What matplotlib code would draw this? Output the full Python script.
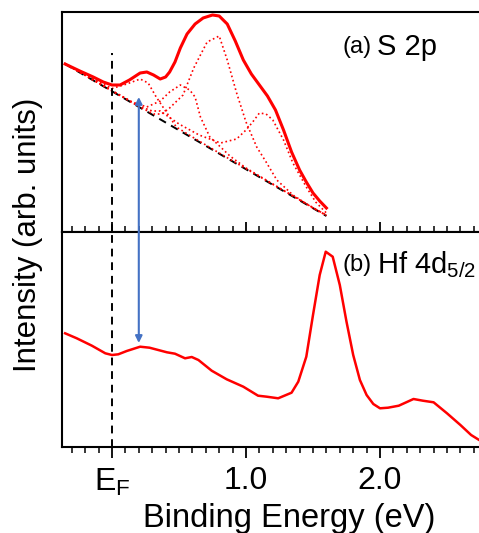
import matplotlib
matplotlib.use("Agg")
import matplotlib.pyplot as plt
from matplotlib.ticker import MultipleLocator, FixedLocator

plt.rcParams['font.family'] = ['Liberation Sans', 'DejaVu Sans']
plt.rcParams['mathtext.fontset'] = 'custom'
plt.rcParams['mathtext.rm'] = 'Liberation Sans'

# ---- (a) S 2p ----
s2p_x = [-0.35, -0.24, -0.14, -0.065, 0.0, 0.06, 0.13, 0.21, 0.26, 0.31, 0.36, 0.40, 0.43,
         0.47, 0.51, 0.56, 0.62, 0.68, 0.75, 0.80, 0.86, 0.92, 0.98, 1.04, 1.10, 1.16, 1.22,
         1.28, 1.34, 1.40, 1.45, 1.50, 1.55, 1.60]
s2p_y = [168, 161, 155, 150, 147, 147, 152, 159, 160, 157, 153, 155, 160,
         170, 184, 198, 208, 214, 217, 216, 208, 191, 172, 158, 147, 136, 122,
         102, 80, 62, 50, 39, 31, 24]

bg_x = [-0.35, 1.60]
bg_y = [168, 16]

comp1_x = [-0.35, -0.2, -0.1, 0.0, 0.11, 0.21, 0.27, 0.33, 0.41, 0.48, 0.6, 0.8, 1.0, 1.2, 1.4, 1.6]
comp1_y = [168.6, 157.8, 150.2, 143.5, 148, 153, 149, 135, 119, 105, 95, 79, 63.3, 47.7, 32, 16.5]

comp2_x = [-0.35, 0.0, 0.15, 0.26, 0.36, 0.43, 0.51, 0.58, 0.62, 0.66, 0.73, 0.81, 0.88, 1.0, 1.2, 1.6]
comp2_y = [168.3, 141.2, 130, 125, 131, 140, 147, 142, 135, 115, 95, 85, 76, 64, 48, 16.5]

comp3_x = [-0.35, 0.0, 0.2, 0.31, 0.37, 0.43, 0.53, 0.61, 0.71, 0.80, 0.86, 0.93, 1.0, 1.08,
           1.15, 1.23, 1.35, 1.5, 1.6]
comp3_y = [168.2, 141, 125.5, 118, 118, 124, 137, 164, 190, 196, 172, 139, 110, 85,
           70, 52, 37, 24, 17]

comp4_x = [-0.35, 0.0, 0.2, 0.30, 0.36, 0.5, 0.65, 0.81, 0.93, 1.0, 1.05, 1.10, 1.15, 1.20,
           1.28, 1.35, 1.45, 1.52, 1.60]
comp4_y = [168.5, 141.5, 126, 121, 121, 108, 97, 89, 93, 102, 110, 119, 118, 112,
           92, 69, 45, 30, 19]

# ---- (b) Hf 4d5/2 ----
hf_x = [-0.35, -0.263, -0.15, -0.05, 0.0, 0.047, 0.11, 0.21, 0.28, 0.41, 0.47, 0.545, 0.595,
        0.645, 0.744, 0.856, 0.98, 1.09, 1.155, 1.24, 1.34, 1.39, 1.45, 1.50, 1.55, 1.595,
        1.647, 1.70, 1.75, 1.80, 1.85, 1.90, 1.95, 2.0, 2.06, 2.14, 2.25, 2.32, 2.40, 2.50,
        2.60, 2.68, 2.74, 2.80]
hf_y = [113.7, 108.7, 101.3, 93.7, 92, 92.7, 96, 100.3, 99.3, 94.7, 93.3, 88.7, 90,
        87, 76.3, 67.7, 60.3, 51.3, 50.3, 48.7, 54.3, 65.3, 90.3, 132, 172, 195.3,
        190.3, 162, 125.3, 92, 67, 52, 43, 38.7, 39.3, 41.3, 48, 46.3, 44.7, 33.7,
        22, 12, 7, 3]

tick_pos = [0.0, 1.0, 2.0]
tick_labels = [r'E$_\mathrm{F}$', '1.0', '2.0']

W, H = 479, 533
fig = plt.figure(figsize=(W / 100, H / 100), dpi=100)

left = 62 / W
width = (505 - 62) / W
ax1 = fig.add_axes([left, (H - 232) / H, width, (232 - 12) / H])
ax2 = fig.add_axes([left, (H - 447) / H, width, (447 - 232) / H])

xmin, xmax = -50 / 134, 393 / 134
red = '#ff0000'

# top panel
ax1.plot(bg_x, bg_y, color='black', ls=(0, (4, 3)), lw=1.4)
for cx, cy in [(comp1_x, comp1_y), (comp2_x, comp2_y), (comp3_x, comp3_y), (comp4_x, comp4_y)]:
    ax1.plot(cx, cy, color=red, ls=':', lw=1.2)
ax1.plot(s2p_x, s2p_y, color=red, lw=2.2, solid_joinstyle='round')
ax1.plot([0, 0], [0, 179], color='black', ls=(0, (4, 3)), lw=1.4)
ax1.set_ylim(0, 220)

# bottom panel
ax2.plot(hf_x, hf_y, color=red, lw=1.8)
ax2.axvline(0, color='black', ls=(0, (4, 3)), lw=1.4)
ax2.set_ylim(0, 215)

for ax in (ax1, ax2):
    ax.set_xlim(xmin, xmax)
    ax.set_yticks([])
    ax.xaxis.set_major_locator(FixedLocator(tick_pos))
    ax.xaxis.set_minor_locator(MultipleLocator(0.1))
    for sp in ax.spines.values():
        sp.set_linewidth(1.5)

ax1.tick_params(axis='x', which='major', direction='in', length=7, width=1.3, labelbottom=False)
ax1.tick_params(axis='x', which='minor', direction='in', length=4, width=1.1)
ax2.tick_params(axis='x', which='major', direction='out', length=8, width=1.3, pad=6, labelsize=23)
ax2.tick_params(axis='x', which='minor', direction='out', length=4, width=1.1)
ax2.set_xticklabels(tick_labels)

# arrow linking the two panels
ax2.annotate('', xy=(0.2, 104), xycoords=ax2.transData,
             xytext=(0.2, 135), textcoords=ax1.transData,
             arrowprops=dict(arrowstyle='<|-|>', color='#4472c4', lw=1.5,
                             mutation_scale=10, shrinkA=0, shrinkB=0),
             annotation_clip=False)

fig.text(342 / W, 1 - 47 / H, '(a)', fontsize=17, va='center', ha='left')
fig.text(377 / W, 1 - 47 / H, 'S 2p', fontsize=21, va='center', ha='left')
fig.text(342 / W, 1 - 265 / H, '(b)', fontsize=17, va='center', ha='left')
fig.text(377 / W, 1 - 265 / H, r'Hf 4d$_{5/2}$', fontsize=21, va='center', ha='left')

fig.text(28 / W, 1 - 235 / H, 'Intensity (arb. units)', fontsize=22.5, rotation=90,
         va='center', ha='center')
fig.text(289 / W, 1 - 518 / H, 'Binding Energy (eV)', fontsize=23.5, va='center', ha='center')

fig.savefig('out.png', dpi=100)
